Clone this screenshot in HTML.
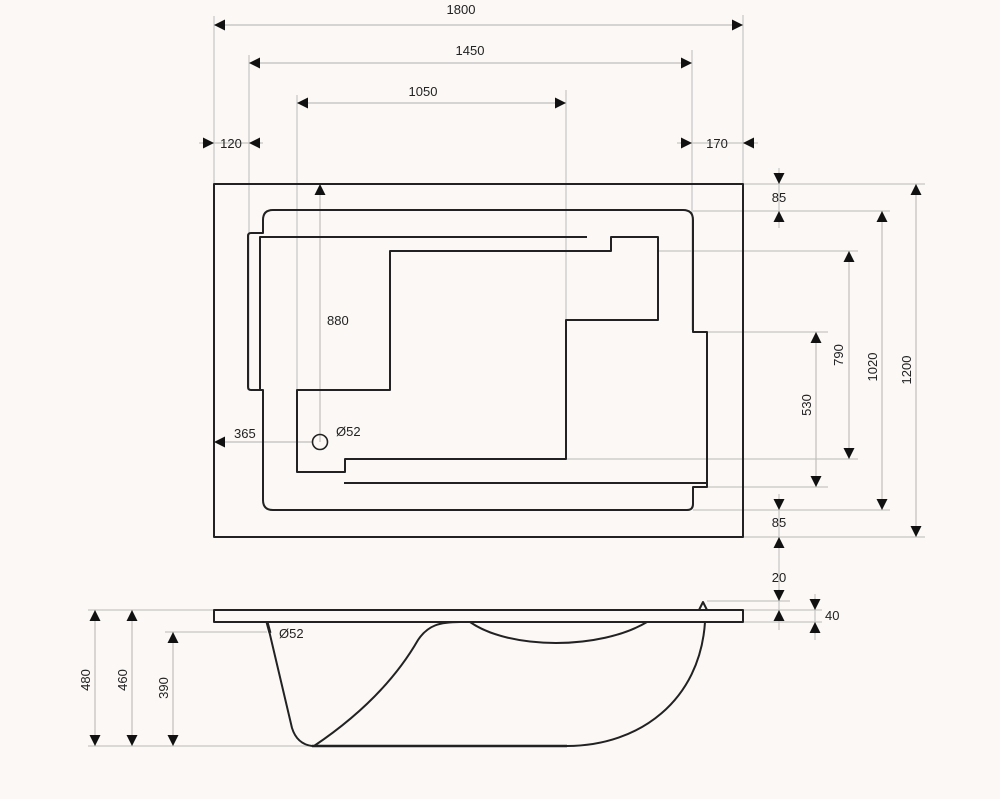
<!DOCTYPE html>
<html><head><meta charset="utf-8"><style>
html,body{margin:0;padding:0;background:#fbf8f6}
svg{display:block}
text{font-family:"Liberation Sans",Arial,sans-serif;font-size:13px;fill:#222}
</style></head><body>
<svg width="1000" height="799" viewBox="0 0 1000 799" xmlns="http://www.w3.org/2000/svg">
<defs>
<marker id="a" viewBox="0 0 10 10" refX="10" refY="5" markerWidth="11" markerHeight="11" markerUnits="userSpaceOnUse" orient="auto-start-reverse"><path d="M0,0 L10,5 L0,10z" fill="#111"/></marker>
</defs>
<g stroke="#c8c6c4" stroke-width="1.2" fill="none">
<line x1="214" y1="16" x2="214" y2="184"/>
<line x1="249" y1="55" x2="249" y2="390"/>
<line x1="297" y1="95" x2="297" y2="390"/>
<line x1="566" y1="90" x2="566" y2="320"/>
<line x1="692" y1="50" x2="692" y2="330"/>
<line x1="743" y1="15" x2="743" y2="184"/>
<line x1="743" y1="184" x2="925" y2="184"/>
<line x1="693" y1="211" x2="890" y2="211"/>
<line x1="658" y1="251" x2="858" y2="251"/>
<line x1="707" y1="332" x2="828" y2="332"/>
<line x1="566" y1="459" x2="858" y2="459"/>
<line x1="707" y1="487" x2="828" y2="487"/>
<line x1="693" y1="510" x2="890" y2="510"/>
<line x1="743" y1="537" x2="925" y2="537"/>
<line x1="779" y1="168" x2="779" y2="228"/>
<line x1="779" y1="494" x2="779" y2="630"/>
<line x1="815" y1="594" x2="815" y2="640"/>
<line x1="88" y1="610" x2="214" y2="610"/>
<line x1="165" y1="632" x2="267" y2="632"/>
<line x1="88" y1="746" x2="312" y2="746"/>
<line x1="707" y1="601" x2="790" y2="601"/>
<line x1="743" y1="610" x2="822" y2="610"/>
<line x1="743" y1="622" x2="822" y2="622"/>
<line x1="199" y1="143" x2="263" y2="143"/>
<line x1="677" y1="143" x2="758" y2="143"/>
</g>
<g stroke="#c0bebc" stroke-width="1.2" fill="none">
<line x1="214" y1="25" x2="743" y2="25" marker-start="url(#a)" marker-end="url(#a)"/>
<line x1="249" y1="63" x2="692" y2="63" marker-start="url(#a)" marker-end="url(#a)"/>
<line x1="297" y1="103" x2="566" y2="103" marker-start="url(#a)" marker-end="url(#a)"/>
<line x1="202" y1="143" x2="214" y2="143" marker-end="url(#a)"/>
<line x1="261" y1="143" x2="249" y2="143" marker-end="url(#a)"/>
<line x1="680" y1="143" x2="692" y2="143" marker-end="url(#a)"/>
<line x1="755" y1="143" x2="743" y2="143" marker-end="url(#a)"/>
<line x1="320" y1="442" x2="320" y2="184" marker-end="url(#a)"/>
<line x1="313" y1="442" x2="214" y2="442" marker-end="url(#a)"/>
<line x1="916" y1="184" x2="916" y2="537" marker-start="url(#a)" marker-end="url(#a)"/>
<line x1="882" y1="211" x2="882" y2="510" marker-start="url(#a)" marker-end="url(#a)"/>
<line x1="849" y1="251" x2="849" y2="459" marker-start="url(#a)" marker-end="url(#a)"/>
<line x1="816" y1="332" x2="816" y2="487" marker-start="url(#a)" marker-end="url(#a)"/>
<line x1="779" y1="172" x2="779" y2="184" marker-end="url(#a)"/>
<line x1="779" y1="223" x2="779" y2="211" marker-end="url(#a)"/>
<line x1="779" y1="498" x2="779" y2="510" marker-end="url(#a)"/>
<line x1="779" y1="549" x2="779" y2="537" marker-end="url(#a)"/>
<line x1="779" y1="589" x2="779" y2="601" marker-end="url(#a)"/>
<line x1="779" y1="622" x2="779" y2="610" marker-end="url(#a)"/>
<line x1="815" y1="598" x2="815" y2="610" marker-end="url(#a)"/>
<line x1="815" y1="634" x2="815" y2="622" marker-end="url(#a)"/>
<line x1="95" y1="610" x2="95" y2="746" marker-start="url(#a)" marker-end="url(#a)"/>
<line x1="132" y1="610" x2="132" y2="746" marker-start="url(#a)" marker-end="url(#a)"/>
<line x1="173" y1="632" x2="173" y2="746" marker-start="url(#a)" marker-end="url(#a)"/>
</g>
<g stroke="#222" stroke-width="2" fill="none" stroke-linejoin="round">
<rect x="214" y="184" width="529" height="353"/>
<path d="M263,233 L263,220 Q263,210 273,210 L683,210 Q693,210 693,220 L693,332 L707,332 L707,487 L693,487 L693,504 Q693,510 687,510 L273,510 Q263,510 263,500 L263,390 L251,390 Q248,390 248,387 L248,236 Q248,233 251,233 Z"/>
<polyline points="260,390 260,237 587,237"/>
<path d="M611,237 L658,237 L658,320 L566,320 L566,459 L345,459 L345,472 L297,472 L297,390 L390,390 L390,251 L611,251 Z"/>
<line x1="344" y1="483" x2="707" y2="483"/>
<circle cx="320" cy="442" r="7.5" stroke-width="1.6"/>
<rect x="214" y="610" width="529" height="12"/>
<path d="M699,610 L703,602 L707,610"/>
<path d="M267,622 L292,728 Q297,744 312,746"/>
<path d="M314,746 C360,715 395,680 418,640 C428,625 440,622 460,622"/>
<path d="M470,622 C510,650 600,650 647,622"/>
<path d="M705,622 C700,700 640,746 567,746"/>
<line x1="312" y1="746" x2="567" y2="746" stroke-width="2.5"/>
<line x1="267" y1="622" x2="270" y2="633" stroke-width="3"/>
</g>
<g>
<text x="461" y="14" text-anchor="middle">1800</text>
<text x="470" y="55" text-anchor="middle">1450</text>
<text x="423" y="96" text-anchor="middle">1050</text>
<text x="231" y="148" text-anchor="middle">120</text>
<text x="717" y="148" text-anchor="middle">170</text>
<text x="327" y="325">880</text>
<text x="234" y="438">365</text>
<text x="336" y="436">Ø52</text>
<text x="779" y="202" text-anchor="middle">85</text>
<text x="779" y="527" text-anchor="middle">85</text>
<text x="779" y="582" text-anchor="middle">20</text>
<text x="825" y="620">40</text>
<text x="279" y="638">Ø52</text>
<text transform="translate(843,355) rotate(-90)" text-anchor="middle">790</text>
<text transform="translate(877,367) rotate(-90)" text-anchor="middle">1020</text>
<text transform="translate(911,370) rotate(-90)" text-anchor="middle">1200</text>
<text transform="translate(811,405) rotate(-90)" text-anchor="middle">530</text>
<text transform="translate(90,680) rotate(-90)" text-anchor="middle">480</text>
<text transform="translate(127,680) rotate(-90)" text-anchor="middle">460</text>
<text transform="translate(168,688) rotate(-90)" text-anchor="middle">390</text>
</g>
</svg>
</body></html>
